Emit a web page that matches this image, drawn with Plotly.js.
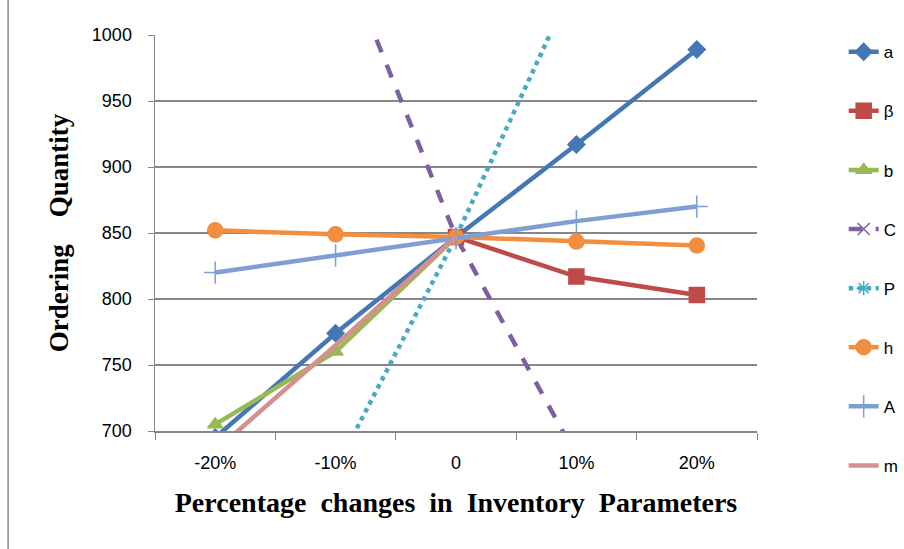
<!DOCTYPE html>
<html>
<head>
<meta charset="utf-8">
<script src="https://cdn.plot.ly/plotly-3.0.1.min.js"></script>
<style>html,body{margin:0;padding:0;background:#fff;}#chart{width:904px;height:549px;}</style>
</head>
<body>
<div id="chart"></div>
<script>
var categories = ["-20%", "-10%", "0", "10%", "20%"];
var seriesNames = ["a", "β", "b", "C", "P", "h", "A", "m"];
var aVals    = [695, 774, 847, 917, 989];
var betaVals = [null, null, 847, 817, 803];
var bVals    = [705, 760, 847, null, null];
var cVals    = [1300, 1074, 847, 681, 560];
var pVals    = [520, 671, 847, 1043, 1240];
var hVals    = [852, 849, 847, 843.5, 840.5];
var AVals    = [820, 833, 846, 859, 870];
var mVals    = [685, 765, 847, null, null];

var seriesVals = [aVals, betaVals, bVals, cVals, pVals, hVals, AVals, mVals];
var colors = ["#4577B5", "#BE4B48", "#98B954", "#7D60A0", "#46AAC5", "#F28E3E", "#7F9FD3", "#D4908F"];
var dashes = ["solid", "solid", "solid", "dash", "dot", "solid", "solid", "solid"];
var symbols = ["diamond", "square", "triangle-up", "x-thin-open", "asterisk-open", "circle", "cross-thin-open", "circle"];
var sizes = [13, 15, 13, 12, 12, 15, 16, 0];

var traces = seriesNames.map(function(name, i) {
  return {
    type: "scatter",
    mode: sizes[i] > 0 ? "lines+markers" : "lines",
    x: categories,
    y: seriesVals[i],
    name: name,
    legendgroup: "g" + i,
    line: {color: colors[i], width: 4.5, dash: dashes[i]},
    marker: {symbol: symbols[i], size: sizes[i], color: colors[i], line: {color: colors[i], width: 1.5}},
    connectgaps: false
  };
});

var layout = {
  width: 904, height: 549,
  margin: {l: 155, r: 147, t: 35, b: 118, autoexpand: false},
  paper_bgcolor: "#ffffff", plot_bgcolor: "#ffffff",
  showlegend: true,
  legend: {x: 1.144, xanchor: "left", y: 1.002, yanchor: "top", tracegroupgap: 34, maxheight: 549,
           font: {family: "Liberation Sans", size: 17, color: "#000"}, bgcolor: "rgba(0,0,0,0)"},
  xaxis: {
    type: "category", range: [-0.5, 4.5], tickson: "boundaries",
    showgrid: false, showline: true, linecolor: "#868686", linewidth: 1.5,
    ticks: "outside", ticklen: 7, tickcolor: "#868686", ticklabelstandoff: 15,
    tickfont: {family: "Liberation Sans", size: 18, color: "#000"},
    title: {text: "Percentage\u00A0 changes\u00A0 in\u00A0 Inventory\u00A0 Parameters", standoff: 20,
            font: {family: "Liberation Serif", size: 28, color: "#000", weight: "bold"}}
  },
  yaxis: {
    range: [700, 1000], dtick: 50, showgrid: true, gridcolor: "#868686", gridwidth: 1.5,
    showline: true, linecolor: "#868686", linewidth: 1.5, zeroline: false,
    ticks: "outside", ticklen: 6, tickcolor: "#868686", ticklabelstandoff: 12,
    tickfont: {family: "Liberation Sans", size: 18, color: "#000"},
    title: {text: "Ordering\u00A0\u00A0\u00A0 Quantity", standoff: 15,
            font: {family: "Liberation Serif", size: 27, color: "#000", weight: "bold"}}
  },
  shapes: [{type: "line", xref: "paper", yref: "paper",
            x0: -0.244, x1: -0.244, y0: -0.4, y1: 1.2,
            line: {color: "#8c8c8c", width: 1.5}}]
};

Plotly.newPlot("chart", traces, layout, {displayModeBar: false, staticPlot: true});
</script>
</body>
</html>
